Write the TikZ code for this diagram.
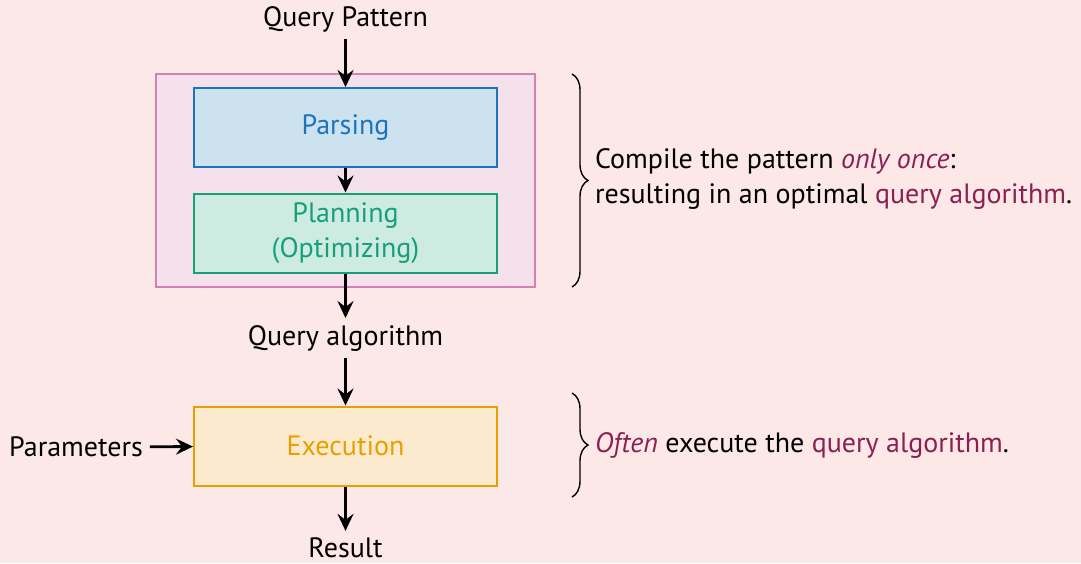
\documentclass[tikz,border=0pt]{standalone}
\usepackage{fontspec}
\setmainfont{PT Sans}
\usetikzlibrary{arrows.meta,decorations.pathreplacing}

\definecolor{bgpink}{HTML}{FDE8E8}
\definecolor{compilefill}{HTML}{F5E1EB}
\definecolor{compiledraw}{HTML}{D282B4}
\definecolor{parsefill}{HTML}{CCE3EF}
\definecolor{parsedraw}{HTML}{1C75BC}
\definecolor{planfill}{HTML}{CDEBE0}
\definecolor{plandraw}{HTML}{16A078}
\definecolor{execfill}{HTML}{FCEACE}
\definecolor{execdraw}{HTML}{E8A000}
\definecolor{hl}{HTML}{8C1F52}

\tikzset{
  stagebox/.style={draw, line width=1pt, minimum width=151.5pt, minimum height=39.5pt, align=center, inner sep=0pt},
  flow/.style={-{Stealth[length=8.5pt,width=8pt,inset=3pt]}, line width=1.4pt},
  curly/.style={decorate, decoration={brace, amplitude=8pt}, line width=0.7pt}
}

\begin{document}
\begin{tikzpicture}[x=0.5pt, y=-0.5pt, font=\fontsize{14}{17.5}\selectfont]
    \useasboundingbox[fill=bgpink] (0,0) rectangle (1081,563);
    % Compile step
    \draw[fill=compilefill, draw=compiledraw, line width=1pt] (156,74) rectangle (535,287);
    \node[stagebox, fill=parsefill, draw=parsedraw, text=parsedraw] (parsing) at (345.5,127.5) {Parsing};
    \node[stagebox, fill=planfill, draw=plandraw, text=plandraw] (planning) at (345.5,233) {Planning\\(Optimizing)};
    % Execute step
    \node[stagebox, fill=execfill, draw=execdraw, text=execdraw] (execution) at (345.5,446) {Execution};

    \node (pattern) at (345.5,19) {Query Pattern};
    \node (algo) at (345.5,338) {Query algorithm};
    \node (params) at (76,447) {Parameters};
    \node (result) at (345.5,548) {Result};

    \draw[flow] (pattern) -- (parsing);
    \draw[flow] (parsing) -- (planning);
    \draw[flow] (planning) -- (algo);
    \draw[flow] (algo) -- (execution);
    \draw[flow] (params) -- (execution);
    \draw[flow] (execution) -- (result);

    % Braces
    \draw[curly] (572,74) -- (572,287);
    \node[anchor=west, align=left] (compiletext) at (588,179) {Compile the pattern \textcolor{hl}{\textit{only once}}:\\resulting in an optimal \textcolor{hl}{query algorithm}.};
    \draw[curly] (572,393) -- (572,497);
    \node[anchor=west] (exectext) at (588,445) {\textcolor{hl}{\textit{Often}} execute the \textcolor{hl}{query algorithm}.};
\end{tikzpicture}
\end{document}
